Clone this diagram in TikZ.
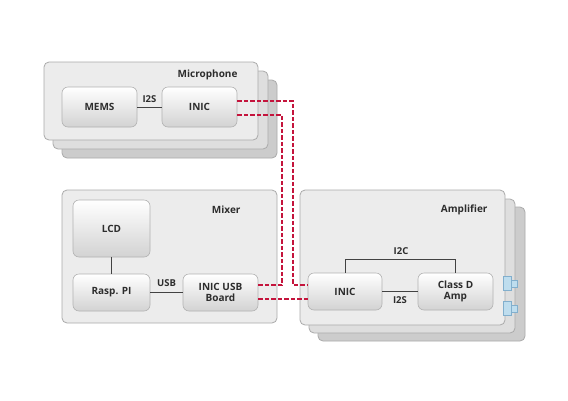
\documentclass[tikz,border=0pt]{standalone}
\usepackage{fontspec}
\setmainfont{Open Sans}
\usetikzlibrary{calc}
\definecolor{frontfill}{RGB}{236,236,236}
\definecolor{midfill}{RGB}{222,222,222}
\definecolor{backfill}{RGB}{204,204,204}
\definecolor{boxedge}{RGB}{170,170,170}
\definecolor{busred}{RGB}{196,20,60}
\definecolor{txt}{RGB}{45,45,45}
\definecolor{spkfill}{RGB}{190,221,238}
\definecolor{spkedge}{RGB}{130,175,205}
\tikzset{
  panel/.style={draw=boxedge, line width=0.8pt, rounded corners=5pt, fill=frontfill},
  panelmid/.style={panel, fill=midfill},
  panelback/.style={panel, fill=backfill},
  block/.style={draw=gray!60, line width=0.6pt, rounded corners=6pt,
    top color=white, bottom color=gray!35, inner sep=0pt,
    font=\bfseries\fontsize{10}{11.5}\selectfont, text=txt, align=center},
  title/.style={font=\bfseries\fontsize{10}{11}\selectfont, text=txt, anchor=east},
  lbl/.style={font=\bfseries\fontsize{9.5}{11}\selectfont, text=txt},
  wire/.style={draw=txt!90, line width=0.9pt},
  bus/.style={draw=busred, line width=1.8pt, dash pattern=on 4.5pt off 2pt},
  spk/.style={draw=spkedge, line width=0.5pt, fill=spkfill}
}
\begin{document}
\begin{tikzpicture}[x=1pt,y=-1pt]
\useasboundingbox[fill=white] (0,0) rectangle (568,400);
% Microphone stack
\draw[panelback] (62,80) rectangle (277,158);
\draw[panelmid] (53,71) rectangle (268,149);
\draw[panel] (44,62) rectangle (258,140);
\node[title] (mictitle) at (241,75) {Microphone};
\node[block, minimum width=75pt, minimum height=40pt] (mems) at (99.5,107) {MEMS};
\node[block, minimum width=75pt, minimum height=40pt] (minic) at (199.5,107) {INIC};
\draw[wire] (mems) -- (minic) node[lbl, midway, above=1pt] (mi2s) {I2S};
% Mixer
\draw[panel] (62,190) rectangle (277,323);
\node[title] (mixtitle) at (244,210) {Mixer};
\node[block, minimum width=77pt, minimum height=57pt] (lcd) at (111.5,228.5) {LCD};
\node[block, minimum width=77pt, minimum height=37pt] (rasp) at (111.5,292.5) {Rasp. PI};
\node[block, minimum width=75pt, minimum height=37pt] (usb) at (220.5,292.5) {INIC USB\\Board};
\draw[wire] (lcd) -- (rasp);
\draw[wire] (rasp) -- (usb) node[lbl, midway, above=2pt] (usblbl) {USB};
% Amplifier stack
\draw[panelback] (318,207) rectangle (525,341);
\draw[panelmid] (309,199) rectangle (515,333);
\draw[panel] (300,190) rectangle (505,325);
\node[title] (amptitle) at (491,210) {Amplifier};
\node[block, minimum width=74pt, minimum height=37pt] (ainic) at (345,291.5) {INIC};
\node[block, minimum width=75pt, minimum height=37pt] (classd) at (455.5,291.5) {Class D\\Amp};
\draw[wire] (ainic) -- (classd) node[lbl, midway, below=1pt] (ai2s) {I2S};
\draw[wire] (ainic.north) -- ++(0,-13) coordinate (ic1) -| (classd.north);
\node[lbl] (i2c) at (401,251) {I2C};
% Speakers
\draw[spk] (511,280) rectangle (517,287);
\draw[spk] (503,276) rectangle (511,290);
\draw[spk] (511,305) rectangle (517,312);
\draw[spk] (503,301) rectangle (511,315);
% MOST bus
\coordinate (ja) at (293,285);
\coordinate (jb) at (282,285);
\coordinate (jc) at (270,299);
\draw[bus] ($(minic.east)+(0,-6)$) -| (ja) -- (ainic.west |- ja);
\draw[bus] ($(minic.east)+(0,8)$) -| (jb) -- (usb.east |- jb);
\draw[bus] (usb.east |- jc) -- (ainic.west |- jc);
\end{tikzpicture}
\end{document}
